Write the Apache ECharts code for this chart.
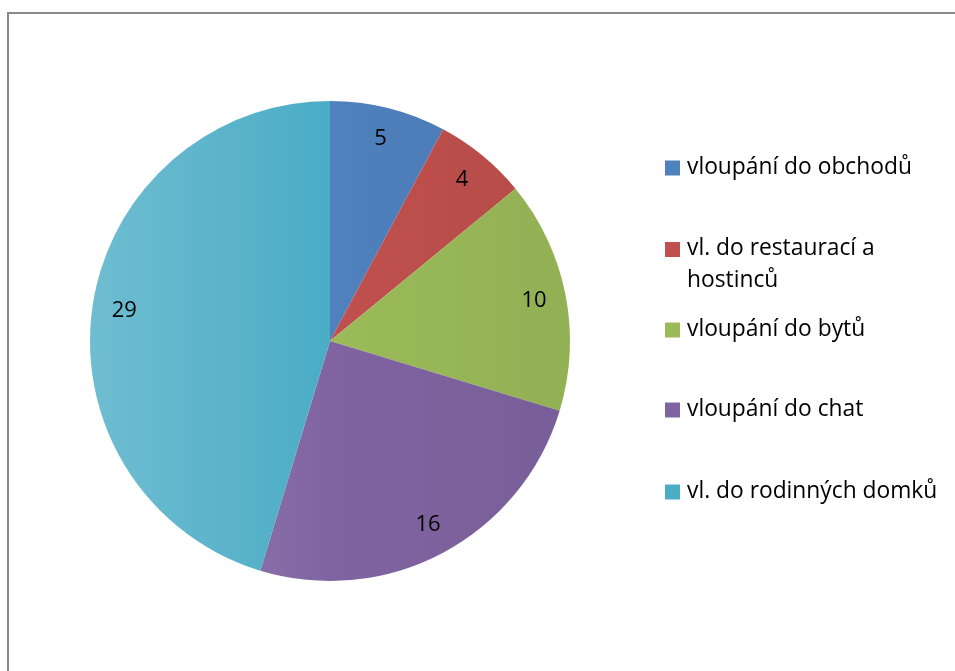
<!DOCTYPE html>
<html>
<head>
<meta charset="utf-8">
<script src="https://cdn.jsdelivr.net/npm/echarts@6/dist/echarts.min.js"></script>
<style>
  html, body { margin: 0; padding: 0; background: #fff; }
  #main { width: 955px; height: 671px; }
</style>
</head>
<body>
<div id="main"></div>
<script>
// kategorie a hodnoty
const categories = [
  'vloupání do obchodů',
  'vl. do restaurací a hostinců',
  'vloupání do bytů',
  'vloupání do chat',
  'vl. do rodinných domků'
];
const values = [5, 4, 10, 16, 29];
const colors = ['#4F81BD', '#C0504D', '#9BBB59', '#8064A2', '#4BACC6'];

const FONT = 'Open Sans';

// posun barvy ke svetlejsi / tmavsi
function shade(hex, amt) {
  const n = parseInt(hex.slice(1), 16);
  let r = n >> 16, g = (n >> 8) & 255, b = n & 255;
  if (amt > 0) {
    r = r + (255 - r) * amt; g = g + (255 - g) * amt; b = b + (255 - b) * amt;
  } else {
    r = r * (1 + amt); g = g * (1 + amt); b = b * (1 + amt);
  }
  return 'rgb(' + Math.round(r) + ',' + Math.round(g) + ',' + Math.round(b) + ')';
}

const cx = 330, cy = 341, R = 240;

const pieData = categories.map((name, i) => ({
  name: name,
  value: values[i],
  itemStyle: {
    color: {
      type: 'linear', global: true,
      x: cx - R, y: 0, x2: cx + R, y2: 0,
      colorStops: [
        { offset: 0, color: shade(colors[i], 0.2) },
        { offset: 0.5, color: colors[i] },
        { offset: 1, color: shade(colors[i], -0.06) }
      ]
    }
  }
}));

// legenda - kazda polozka zvlast kvuli rozestupum
const legendTops = [154, 233, 316, 396, 478];
const legends = categories.map((name, i) => {
  const two = i === 1;
  return {
    left: 665,
    top: legendTops[i],
    orient: 'vertical',
    padding: 0,
    itemWidth: 15,
    itemHeight: two ? 64 : 15,
    itemGap: 0,
    icon: two ? 'path://M0,0M0,9L15,9L15,24L0,24ZM0,64' : 'rect',
    selectedMode: false,
    data: [{ name: name, itemStyle: { color: colors[i] } }],
    formatter: n => n.replace(' a hostin', ' a\nhostin'),
    textStyle: {
      fontFamily: FONT,
      fontSize: 22.8,
      color: '#000',
      lineHeight: two ? 32 : 28,
      padding: [0, 0, 0, 2]
    }
  };
});

const chart = echarts.init(document.getElementById('main'));
chart.setOption({
  animation: false,
  backgroundColor: '#fff',
  graphic: [{
    type: 'rect',
    shape: { x: 8, y: 13, width: 1000, height: 800 },
    style: { fill: 'none', stroke: '#898989', lineWidth: 2 },
    silent: true
  }],
  legend: legends,
  series: [
    {
      type: 'pie',
      center: [cx, cy],
      radius: R,
      startAngle: 90,
      clockwise: true,
      label: { show: false },
      labelLine: { show: false },
      itemStyle: { borderWidth: 0 },
      emphasis: { disabled: true },
      data: pieData
    },
    {
      // jen popisky hodnot
      type: 'pie',
      center: [cx, cy],
      radius: [170, R],
      startAngle: 90,
      clockwise: true,
      silent: true,
      itemStyle: { color: 'transparent', borderWidth: 0 },
      emphasis: { disabled: true },
      label: {
        show: true,
        position: 'inside',
        formatter: '{c}',
        fontFamily: FONT,
        fontSize: 22,
        color: '#000'
      },
      labelLine: { show: false },
      data: categories.map((name, i) => ({ name: name, value: values[i] }))
    }
  ]
});
</script>
</body>
</html>
